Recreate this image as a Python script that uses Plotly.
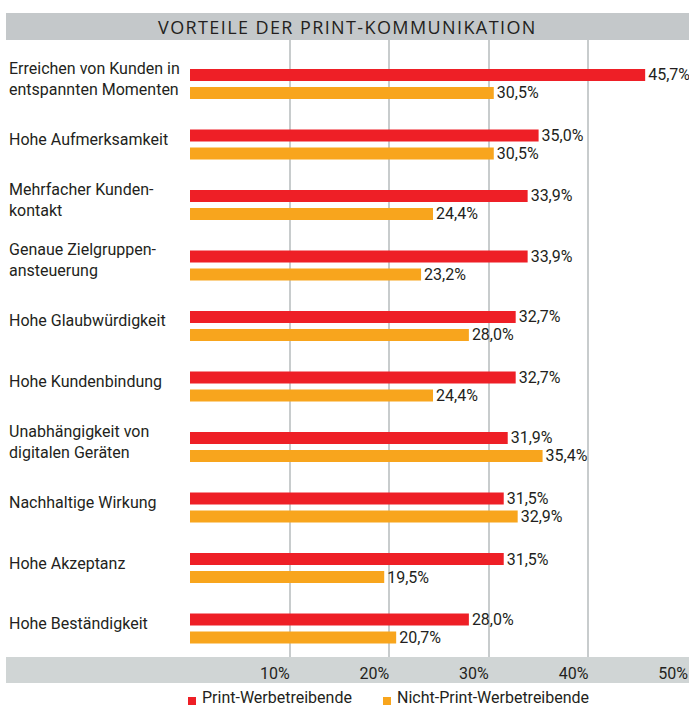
import plotly.graph_objects as go

categories = [
    "Erreichen von Kunden in<br>entspannten Momenten",
    "Hohe Aufmerksamkeit",
    "Mehrfacher Kunden-<br>kontakt",
    "Genaue Zielgruppen-<br>ansteuerung",
    "Hohe Glaubwürdigkeit",
    "Hohe Kundenbindung",
    "Unabhängigkeit von<br>digitalen Geräten",
    "Nachhaltige Wirkung",
    "Hohe Akzeptanz",
    "Hohe Beständigkeit",
]
print_values = [45.7, 35.0, 33.9, 33.9, 32.7, 32.7, 31.9, 31.5, 31.5, 28.0]
nonprint_values = [30.5, 30.5, 24.4, 23.2, 28.0, 24.4, 35.4, 32.9, 19.5, 20.7]
series_names = ["Print-Werbetreibende", "Nicht-Print-Werbetreibende"]
tick_values = [0, 10, 20, 30, 40, 50]
tick_labels = ["", "10%", "20%", "30%", "40%", "50%"]
title_text = "VORTEILE DER PRINT-KOMMUNIKATION"

RED = "#ee1f26"
ORANGE = "#f8a51d"
TEXT = "#231f20"
FONT = "Roboto"

def fmt(v):
    return f"{v:.1f}".replace(".", ",") + "%"

fig = go.Figure()
for name, vals, col in [(series_names[0], print_values, RED),
                        (series_names[1], nonprint_values, ORANGE)]:
    fig.add_trace(go.Bar(
        y=categories, x=vals, orientation="h", name=name,
        marker=dict(color=col, line=dict(width=0)),
        text=[fmt(v) for v in vals], textposition="outside",
        textfont=dict(family=FONT, size=16, color=TEXT),
        constraintext="none", cliponaxis=False, showlegend=False,
        hoverinfo="skip",
    ))

W, H = 689, 708
L, R, T, B = 190, 1, 40, 51
pw, ph = W - L - R, H - T - B

def px_x(p):
    return (p - L) / pw

def px_y(p):
    return 1 - (p - T) / ph

# title band
fig.add_shape(type="rect", xref="paper", yref="paper",
              x0=px_x(6), x1=px_x(689), y0=px_y(40), y1=px_y(13),
              fillcolor="#c4c8ca", line=dict(width=0), layer="below")
fig.add_annotation(xref="paper", yref="paper", x=px_x(347.5), y=px_y(26.5),
                   text="<span style='letter-spacing:1.4px'>" + title_text + "</span>",
                   showarrow=False, xanchor="center", yanchor="middle",
                   font=dict(family="Open Sans", size=18, color=TEXT))
# bottom axis band
fig.add_shape(type="rect", xref="paper", yref="paper",
              x0=px_x(6), x1=px_x(689), y0=px_y(683), y1=px_y(657),
              fillcolor="#d0d5d5", line=dict(width=0), layer="below")

# category labels
for c in categories:
    fig.add_annotation(xref="paper", yref="y", x=px_x(7), y=c, text=c,
                       showarrow=False, xanchor="left", yanchor="middle", align="left",
                       yshift=5, font=dict(family=FONT, size=16, color=TEXT))

# legend (squares + labels)
for name, col, sx in [(series_names[0], RED, 188), (series_names[1], ORANGE, 383)]:
    fig.add_shape(type="rect", xref="paper", yref="paper",
                  x0=px_x(sx), x1=px_x(sx + 8), y0=px_y(705), y1=px_y(697),
                  fillcolor=col, line=dict(width=0))
    fig.add_annotation(xref="paper", yref="paper", x=px_x(sx + 13), y=px_y(708),
                       text=name, showarrow=False, xanchor="left", yanchor="bottom",
                       borderpad=0,
                       font=dict(family=FONT, size=16, color=TEXT))

fig.update_layout(
    width=W, height=H, margin=dict(l=L, r=R, t=T, b=B, autoexpand=False),
    paper_bgcolor="white", plot_bgcolor="white",
    barmode="group", bargap=0.405, bargroupgap=0.334,
    font=dict(family=FONT, size=16, color=TEXT),
    xaxis=dict(range=[0, 50], tickvals=tick_values, ticktext=tick_labels,
               showgrid=True, gridcolor="#c8cccd", gridwidth=1.5,
               zeroline=False, showline=False, ticks="",
               ticklabelposition="outside left", ticklabelstandoff=5,
               tickfont=dict(family=FONT, size=16, color=TEXT), fixedrange=True),
    yaxis=dict(categoryorder="array", categoryarray=categories,
               range=[9.471, -0.727], showticklabels=False, showgrid=False,
               zeroline=False, showline=False, ticks="", fixedrange=True),
    showlegend=False,
)

fig.write_html("out.html", config={"displayModeBar": False},
               post_script="document.body.style.margin='0';")
